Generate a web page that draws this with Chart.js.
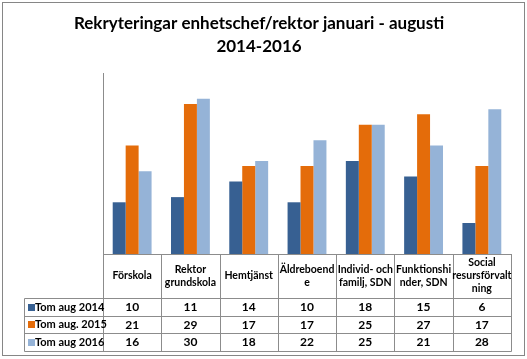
<!DOCTYPE html>
<html>
<head>
<meta charset="utf-8">
<script src="https://cdn.jsdelivr.net/npm/chart.js@4"></script>
<style>
    html, body { margin: 0; padding: 0; background: #fff; }
    #wrap { width: 527px; height: 359px; position: relative; }
</style>
</head>
<body>
<div id="wrap"><canvas id="chart" width="527" height="359"></canvas></div>
<script>
// Data
const categories = [
    ['Förskola'],
    ['Rektor', 'grundskola'],
    ['Hemtjänst'],
    ['Äldreboend', 'e'],
    ['Individ- och', 'familj, SDN'],
    ['Funktionshi', 'nder, SDN'],
    ['Social', 'resursförvalt', 'ning']
];
const seriesLabels = ['Tom aug 2014', 'Tom aug. 2015', 'Tom aug 2016'];
const values2014 = [10, 11, 14, 10, 18, 15, 6];
const values2015 = [21, 29, 17, 17, 25, 27, 17];
const values2016 = [16, 30, 18, 22, 25, 21, 28];
const seriesColors = ['#376092', '#E46C0A', '#95B3D7'];
const titleLines = ['Rekryteringar enhetschef/rektor januari - augusti', '2014-2016'];

const FONT = "Lato, 'Open Sans', sans-serif";
const LINE = '#8c8c8c';

// Frame and title, centred on the whole canvas (not the plot area)
const framePlugin = {
    id: 'frame',
    beforeDraw(chart) {
        const ctx = chart.ctx;
        ctx.save();
        ctx.fillStyle = '#fff';
        ctx.fillRect(0, 0, chart.width, chart.height);
        ctx.strokeStyle = '#868686';
        ctx.lineWidth = 1;
        ctx.strokeRect(2.5, 2.5, chart.width - 5, chart.height - 6);

        ctx.fillStyle = '#000';
        ctx.font = 'bold 17px ' + FONT;
        ctx.textAlign = 'center';
        ctx.textBaseline = 'middle';
        ctx.fillText(titleLines[0], 259, 24);
        ctx.fillText(titleLines[1], 259, 47);
        ctx.restore();
    }
};

// Excel style data table under the axis
const tablePlugin = {
    id: 'dataTable',
    afterDraw(chart) {
        const ctx = chart.ctx;
        const x = chart.scales.x;
        const area = chart.chartArea;
        const n = categories.length;
        const w = (x.right - x.left) / n;
        const px = v => Math.round(v) + 0.5;

        const top = area.bottom;
        const headerBottom = top + 44;
        const rowH = 17.5;
        const tableBottom = headerBottom + rowH * 3;
        const leftCol = 24;

        ctx.save();
        ctx.strokeStyle = LINE;
        ctx.lineWidth = 1;
        ctx.beginPath();
        // vertical lines between categories
        for (let i = 0; i <= n; i++) {
            const bx = i < n ? x.getPixelForValue(i) - w / 2 : x.getPixelForValue(n - 1) + w / 2;
            ctx.moveTo(px(bx), top);
            ctx.lineTo(px(bx), px(tableBottom));
        }
        // left column border
        ctx.moveTo(px(leftCol), px(headerBottom));
        ctx.lineTo(px(leftCol), px(tableBottom));
        // horizontal rows
        for (let r = 0; r <= 3; r++) {
            const y = px(headerBottom + r * rowH);
            ctx.moveTo(px(leftCol), y);
            ctx.lineTo(px(x.right), y);
        }
        ctx.stroke();

        ctx.fillStyle = '#000';
        ctx.textAlign = 'center';
        ctx.textBaseline = 'middle';

        // category header labels
        ctx.font = 'bold 10.5px ' + FONT;
        categories.forEach((lines, i) => {
            const cx = x.getPixelForValue(i);
            const lh = 13;
            const cy = (top + headerBottom) / 2 - (lines.length - 1) * lh / 2;
            lines.forEach((t, k) => ctx.fillText(t, cx, cy + k * lh));
        });

        // values and row headers
        const rows = [values2014, values2015, values2016];
        rows.forEach((vals, r) => {
            const cy = headerBottom + r * rowH + rowH / 2 + 0.5;
            ctx.font = 'bold 12px ' + FONT;
            vals.forEach((v, i) => ctx.fillText(String(v), x.getPixelForValue(i), cy));

            ctx.fillStyle = seriesColors[r];
            ctx.fillRect(leftCol + 4, Math.round(cy - 3.5), 7, 7);
            ctx.fillStyle = '#000';
            ctx.textAlign = 'left';
            ctx.font = 'bold 11px ' + FONT;
            ctx.fillText(seriesLabels[r], leftCol + 11, cy);
            ctx.textAlign = 'center';
        });
        ctx.restore();
    }
};

new Chart(document.getElementById('chart'), {
    type: 'bar',
    data: {
        labels: categories.map(c => c.join(' ')),
        datasets: [
            { label: seriesLabels[0], data: values2014, backgroundColor: seriesColors[0] },
            { label: seriesLabels[1], data: values2015, backgroundColor: seriesColors[1] },
            { label: seriesLabels[2], data: values2016, backgroundColor: seriesColors[2] }
        ]
    },
    options: {
        responsive: false,
        animation: false,
        devicePixelRatio: 1,
        categoryPercentage: 0.667,
        barPercentage: 1,
        layout: { padding: { left: 103, right: 16, top: 73, bottom: 105 } },
        scales: {
            x: {
                ticks: { display: false },
                grid: { display: false, drawTicks: false },
                border: { display: true, color: LINE }
            },
            y: {
                min: 0,
                max: 35,
                ticks: { display: false },
                grid: { display: false, drawTicks: false },
                border: { display: true, color: LINE }
            }
        },
        plugins: {
            legend: { display: false },
            tooltip: { enabled: false },
            title: { display: false }
        }
    },
    plugins: [framePlugin, tablePlugin]
});
</script>
</body>
</html>
